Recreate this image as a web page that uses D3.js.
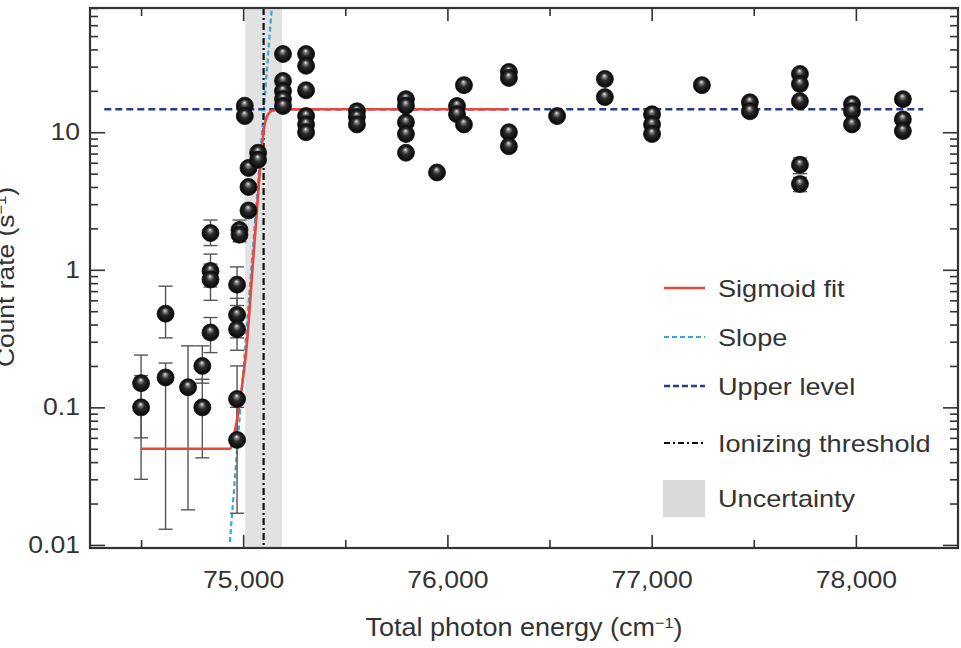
<!DOCTYPE html>
<html>
<head>
<meta charset="utf-8">
<script src="https://cdn.jsdelivr.net/npm/d3@7"></script>
<style>
  body { margin: 0; background: #fff; }
  svg { display: block; font-family: "Liberation Sans", Arial, sans-serif; }
</style>
</head>
<body>
<div id="chart"></div>
<script>
var w = 961;
var h = 648;
var margin = { top: 8, right: 3, bottom: 100, left: 90 };

// measured points (energy in cm^-1, count rate in s^-1)
var energy = [74500, 74500, 74620, 74620, 74730, 74800, 74800,
              74840, 74840, 74840, 74840,
              74970, 74970, 74970, 74970, 74970, 74982, 74982,
              75008, 75008, 75026, 75026, 75026, 75073, 75073,
              75195, 75195, 75195, 75195, 75195,
              75308, 75308, 75308, 75308, 75308, 75308,
              75557, 75557, 75557,
              75797, 75797, 75797, 75797, 75797,
              75949, 76047, 76047, 76081, 76081,
              76301, 76301, 76301, 76301,
              76537, 76771, 76771,
              77002, 77002, 77002, 77246, 77481, 77481,
              77726, 77726, 77726, 77726, 77726,
              77981, 77981, 77981, 78230, 78230, 78230];
var rate = [0.15, 0.10, 0.48, 0.165, 0.14, 0.20, 0.10,
            1.85, 0.98, 0.85, 0.35,
            0.78, 0.47, 0.37, 0.115, 0.058, 1.95, 1.8,
            15.6, 13.1, 5.5, 4.0, 2.7, 7.1, 6.3,
            37, 23.6, 19.9, 17.4, 15.5,
            37, 30.4, 20.2, 13.1, 11.4, 10.0,
            14.2, 12.9, 11.4,
            17.4, 15.6, 11.8, 9.7, 7.1,
            5.1, 15.5, 13.5, 22.0, 11.4,
            27.4, 24.8, 10.0, 7.9,
            13.1, 24.4, 18,
            13.5, 11.4, 9.7, 22, 16.5, 14.2,
            26.5, 22.4, 16.8, 5.8, 4.2,
            16, 14.2, 11.4, 17.4, 12.4, 10.2];
// error bar ends (null = bar hidden behind marker)
var errLow = [0.06, 0.03, 0.32, 0.013, 0.018, 0.15, 0.043,
              1.5, 0.75, 0.6, 0.25,
              0.55, 0.32, 0.26, 0.06, 0.017, 1.6, null];
var errHigh = [0.24, 0.17, 0.76, 0.21, 0.28, 0.28, 0.16,
               2.3, 1.3, 1.1, 0.45,
               1.05, 0.62, 0.5, 0.2, 0.1, 2.3, null];
// small bars of the two low points at 77,726
var errEnergy = [77726, 77726];
var errRate = [5.8, 4.2];
var errRateLow = [5.0, 3.7];
var errRateHigh = [6.5, 4.7];

// sigmoid fit
var fitEnergy = [74500, 74935, 74960, 74984, 75019, 75043, 75068, 75092, 75112, 75141, 75195, 76301];
var fitRate = [0.05, 0.05, 0.068, 0.11, 0.3, 0.9, 2.8, 8, 12.5, 14.3, 14.7, 14.7];
// tangent (slope) line ends
var slopeEnergy = [74935, 75140];
var slopeRate = [0.0105, 80];
var upperLevel = 14.7;
var upperEnergy = [74320, 78330];
var threshold = 75100;
var uncertainty = [75010, 75190];

var xMajor = [75000, 76000, 77000, 78000];
var xMinor = [74500, 75500, 76500, 77500];
var yMajor = [0.01, 0.1, 1, 10];
var yMinor = [0.02, 0.03, 0.04, 0.05, 0.06, 0.07, 0.08, 0.09,
              0.2, 0.3, 0.4, 0.5, 0.6, 0.7, 0.8, 0.9,
              2, 3, 4, 5, 6, 7, 8, 9,
              20, 30, 40, 50, 60, 70, 80];

var legendLabels = ["Sigmoid fit", "Slope", "Upper level", "Ionizing threshold", "Uncertainty"];

var xscale = d3.scaleLinear().domain([74250, 78500]).range([margin.left, w - margin.right]);
var yscale = d3.scaleLog().domain([0.0095, 80]).range([h - margin.bottom, margin.top]);

var svg = d3.select("#chart").append("svg").attr("width", w).attr("height", h);

var defs = svg.append("defs");
defs.append("clipPath").attr("id", "plot")
    .append("rect")
    .attr("x", margin.left).attr("y", margin.top)
    .attr("width", w - margin.right - margin.left)
    .attr("height", h - margin.bottom - margin.top);

var grad = defs.append("radialGradient").attr("id", "ball")
    .attr("cx", 0.5).attr("cy", 0.5).attr("r", 0.5)
    .attr("fx", 0.47).attr("fy", 0.3);
grad.append("stop").attr("offset", "0%").attr("stop-color", "#f2f2f2");
grad.append("stop").attr("offset", "18%").attr("stop-color", "#888");
grad.append("stop").attr("offset", "45%").attr("stop-color", "#2a2a2a");
grad.append("stop").attr("offset", "100%").attr("stop-color", "#050505");

var plot = svg.append("g").attr("clip-path", "url(#plot)");

// uncertainty band
plot.append("rect")
    .attr("x", xscale(uncertainty[0]))
    .attr("y", margin.top)
    .attr("width", xscale(uncertainty[1]) - xscale(uncertainty[0]))
    .attr("height", h - margin.bottom - margin.top)
    .attr("fill", "#e2e2e2");

// upper level
plot.append("line")
    .attr("x1", xscale(upperEnergy[0])).attr("x2", xscale(upperEnergy[1]))
    .attr("y1", yscale(upperLevel)).attr("y2", yscale(upperLevel))
    .attr("stroke", "#2b3a8e").attr("stroke-width", 2.4)
    .attr("stroke-dasharray", "7,4");

// slope
plot.append("line")
    .attr("x1", xscale(slopeEnergy[0])).attr("x2", xscale(slopeEnergy[1]))
    .attr("y1", yscale(slopeRate[0])).attr("y2", yscale(slopeRate[1]))
    .attr("stroke", "#3aa7dc").attr("stroke-width", 2.2)
    .attr("stroke-dasharray", "5,3");

// threshold
plot.append("line")
    .attr("x1", xscale(threshold)).attr("x2", xscale(threshold))
    .attr("y1", margin.top).attr("y2", h - margin.bottom)
    .attr("stroke", "#111").attr("stroke-width", 2.2)
    .attr("stroke-dasharray", "7,3,2,3");

// error bars
var bars = d3.range(errLow.length).filter(i => errLow[i] != null)
    .map(i => ({ e: energy[i], lo: errLow[i], hi: errHigh[i] }))
    .concat(errEnergy.map((e, i) => ({ e: e, lo: errRateLow[i], hi: errRateHigh[i] })));

var eb = plot.append("g").attr("stroke", "#555").attr("stroke-width", 1.4);
bars.forEach(function(d) {
    var cx = xscale(d.e);
    eb.append("line").attr("x1", cx).attr("x2", cx).attr("y1", yscale(d.lo)).attr("y2", yscale(d.hi));
    eb.append("line").attr("x1", cx - 7).attr("x2", cx + 7).attr("y1", yscale(d.lo)).attr("y2", yscale(d.lo));
    eb.append("line").attr("x1", cx - 7).attr("x2", cx + 7).attr("y1", yscale(d.hi)).attr("y2", yscale(d.hi));
});

// sigmoid fit
var fitLine = d3.line()
    .x(i => xscale(fitEnergy[i]))
    .y(i => yscale(fitRate[i]))
    .curve(d3.curveMonotoneX);
plot.append("path")
    .attr("d", fitLine(d3.range(fitEnergy.length)))
    .attr("fill", "none").attr("stroke", "#e8473b").attr("stroke-width", 2.6);

// markers
plot.selectAll("circle.pt")
    .data(d3.range(energy.length))
    .enter()
    .append("circle")
    .attr("class", "pt")
    .attr("cx", i => xscale(energy[i]))
    .attr("cy", i => yscale(rate[i]))
    .attr("r", 8.5)
    .attr("fill", "url(#ball)")
    .attr("stroke", "#111").attr("stroke-width", 0.8);

// axes (inward ticks on all four sides)
var x0 = margin.left, x1 = w - margin.right, y0 = h - margin.bottom, y1 = margin.top;
var fs = 23.5;

function tickGroup(axis, tx, ty) {
    var g = svg.append("g").attr("transform", "translate(" + tx + "," + ty + ")").call(axis);
    g.select(".domain").remove();
    g.selectAll("line").attr("stroke", "#333").attr("stroke-width", 1.6);
    g.selectAll("text").attr("fill", "#333").style("font-size", fs + "px")
        .style("font-family", "Liberation Sans, Arial, sans-serif");
    return g;
}

tickGroup(d3.axisBottom(xscale).tickValues(xMajor).tickSizeInner(-13).tickSizeOuter(0)
    .tickPadding(23).tickFormat(d3.format(",")), 0, y0);
tickGroup(d3.axisBottom(xscale).tickValues(xMinor).tickSizeInner(-8).tickSizeOuter(0).tickFormat(""), 0, y0);
tickGroup(d3.axisTop(xscale).tickValues(xMajor).tickSizeInner(-13).tickSizeOuter(0).tickFormat(""), 0, y1);
tickGroup(d3.axisTop(xscale).tickValues(xMinor).tickSizeInner(-8).tickSizeOuter(0).tickFormat(""), 0, y1);

tickGroup(d3.axisLeft(yscale).tickValues(yMajor).tickSizeInner(-15).tickSizeOuter(0)
    .tickPadding(10).tickFormat(d => d), x0, 0);
tickGroup(d3.axisLeft(yscale).tickValues(yMinor).tickSizeInner(-8).tickSizeOuter(0).tickFormat(""), x0, 0);
tickGroup(d3.axisRight(yscale).tickValues(yMajor).tickSizeInner(-15).tickSizeOuter(0).tickFormat(""), x1, 0);
tickGroup(d3.axisRight(yscale).tickValues(yMinor).tickSizeInner(-8).tickSizeOuter(0).tickFormat(""), x1, 0);

// frame
svg.append("rect")
    .attr("x", x0).attr("y", y1).attr("width", x1 - x0).attr("height", y0 - y1)
    .attr("fill", "none").attr("stroke", "#333").attr("stroke-width", 2.2);

// legend
var lg = svg.append("g").attr("class", "legend");
var rowY = [288, 337, 386, 443, 498];
var lineStyles = [
    { stroke: "#e8473b", dash: null, width: 2.6 },
    { stroke: "#3aa7dc", dash: "5,3", width: 2.2 },
    { stroke: "#2b3a8e", dash: "6,3", width: 2.4 },
    { stroke: "#111", dash: "6,3,2,3", width: 2.2 }
];
lineStyles.forEach(function(s, i) {
    lg.append("line")
        .attr("x1", 664).attr("x2", 705).attr("y1", rowY[i]).attr("y2", rowY[i])
        .attr("stroke", s.stroke).attr("stroke-width", s.width)
        .attr("stroke-dasharray", s.dash);
});
lg.append("rect").attr("x", 663).attr("y", 480).attr("width", 42).attr("height", 37).attr("fill", "#d9d9d9");
lg.selectAll("text")
    .data(legendLabels)
    .enter()
    .append("text")
    .attr("x", 718)
    .attr("y", (d, i) => rowY[i])
    .attr("dy", "0.36em")
    .attr("fill", "#333")
    .style("font-size", "24px")
    .text(d => d);

// widen tick and legend labels to match the source's letter width
svg.selectAll(".tick text, .legend text").each(function() {
    var len = this.getComputedTextLength();
    if (len > 0) d3.select(this).attr("textLength", len * 1.13).attr("lengthAdjust", "spacingAndGlyphs");
});

// axis titles
var xt = svg.append("g").attr("transform", "translate(" + ((x0 + x1) / 2) + ",636) scale(1.08,1)")
    .append("text").attr("text-anchor", "middle").attr("fill", "#333").style("font-size", "25px");
xt.append("tspan").text("Total photon energy (cm");
xt.append("tspan").attr("dy", "-0.55em").style("font-size", "15px").text("\u22121");
xt.append("tspan").attr("dy", "0.35em").text(")");

var yt = svg.append("g").attr("transform", "translate(14,277) rotate(-90) scale(1.1,1)")
    .append("text").attr("text-anchor", "middle").attr("fill", "#333").style("font-size", "24px");
yt.append("tspan").text("Count rate (s");
yt.append("tspan").attr("dy", "-0.55em").style("font-size", "15px").text("\u22121");
yt.append("tspan").attr("dy", "0.35em").text(")");
</script>
</body>
</html>
